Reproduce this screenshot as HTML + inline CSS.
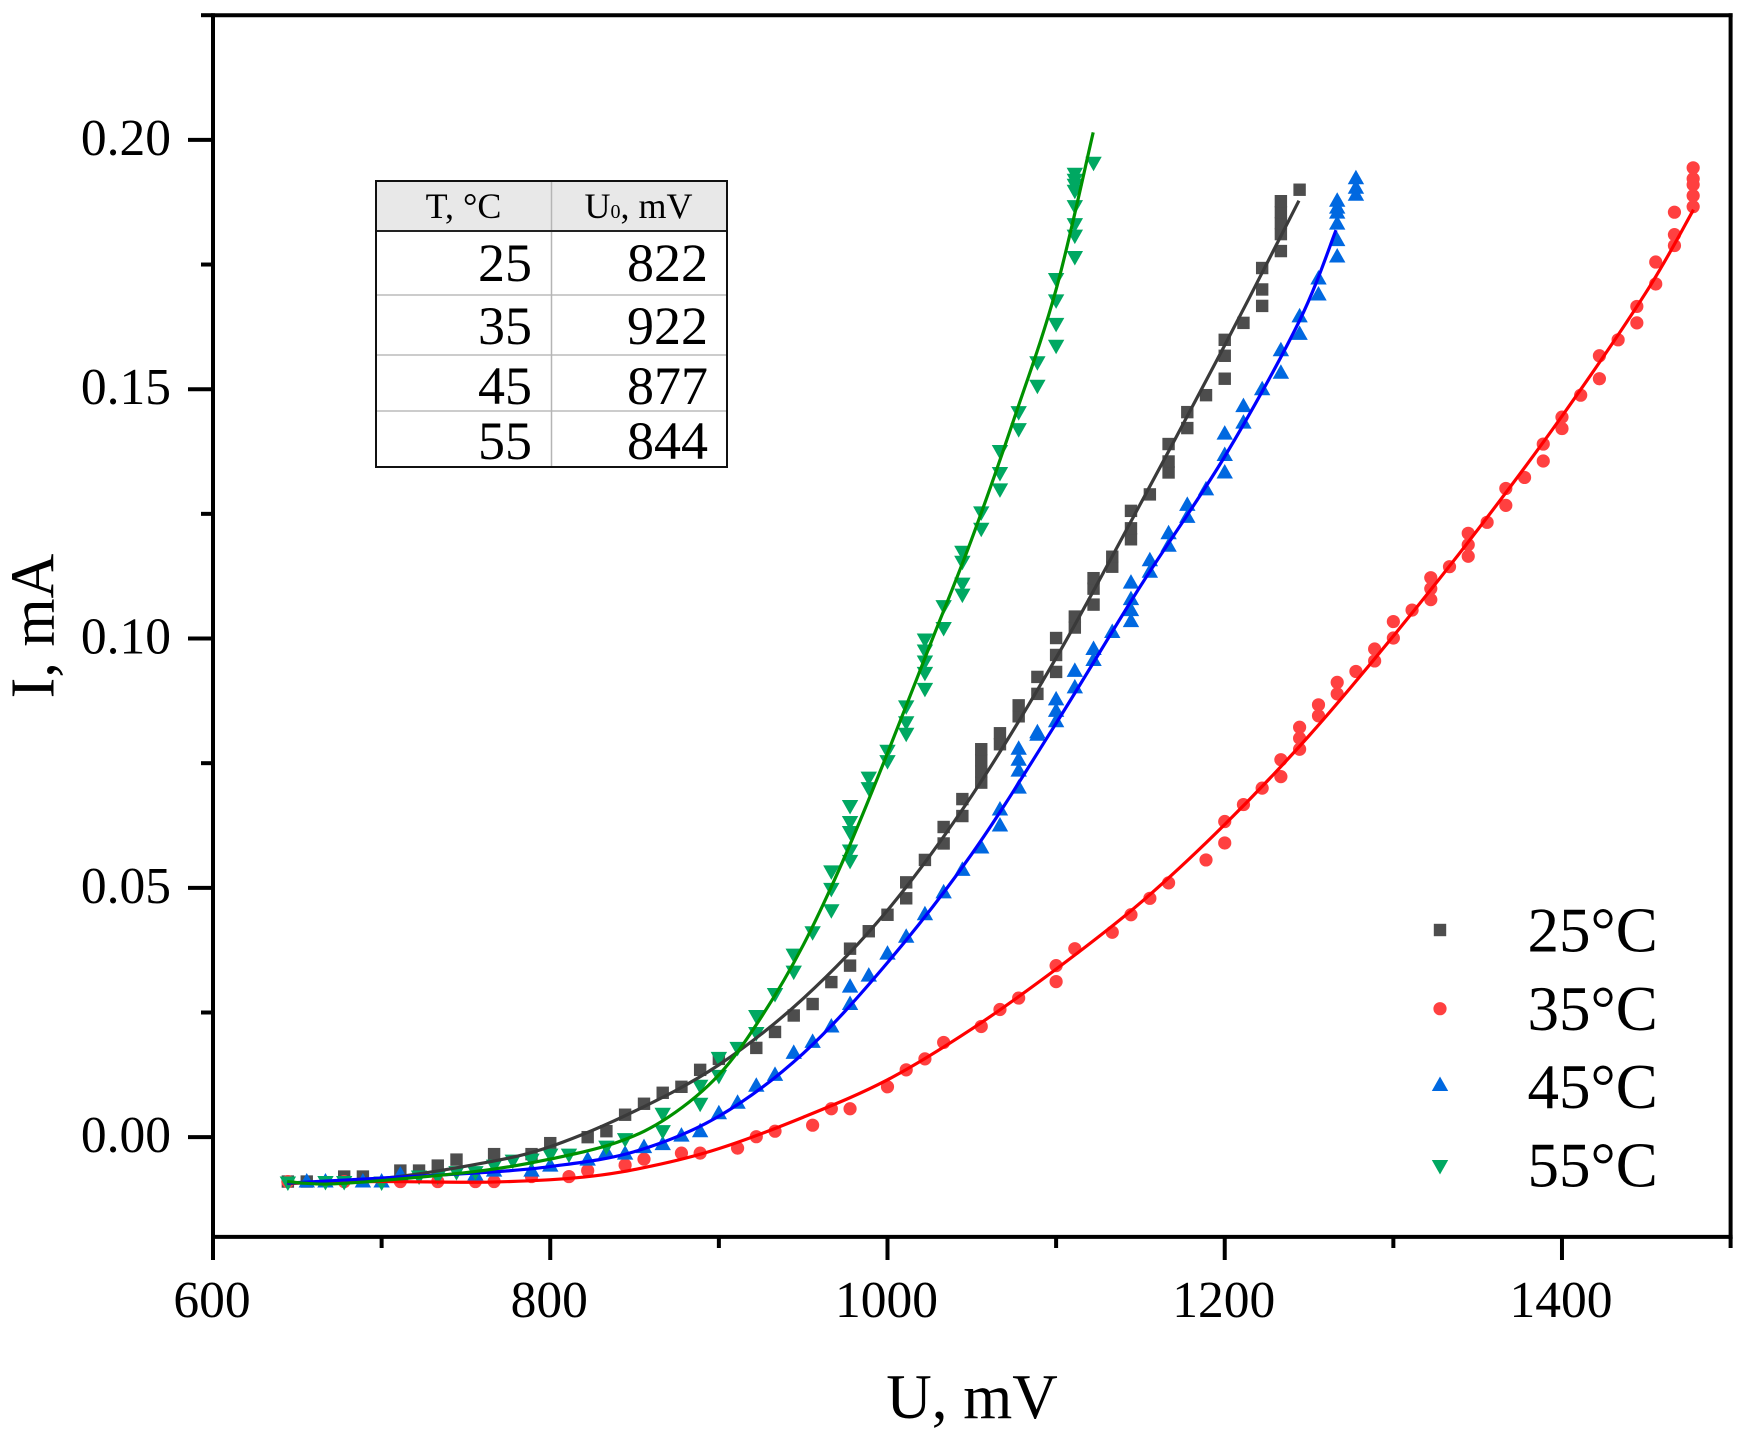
<!DOCTYPE html>
<html lang="en">
<head>
<meta charset="utf-8">
<title>I-U curves</title>
<style>
html,body{margin:0;padding:0;background:#fff;}
svg{display:block;}
text{font-family:"Liberation Serif",serif;fill:#000;}
</style>
</head>
<body>
<svg id="chart" xmlns="http://www.w3.org/2000/svg" width="1758" height="1440" viewBox="0 0 1758 1440">
<rect x="0" y="0" width="1758" height="1440" fill="#fff"/>
<g id="marks"></g>
<g id="curves"></g>
<g id="axes"></g>
<text x="972" y="1418" font-size="63" text-anchor="middle">U, mV</text>
<text transform="translate(53.5 626) rotate(-90)" font-size="62" text-anchor="middle">I, mA</text>
<g>
<rect x="376" y="181" width="351" height="50" fill="#e8e8e8"/>
<line x1="376" x2="727" y1="295" y2="295" stroke="#ccc" stroke-width="2"/>
<line x1="376" x2="727" y1="355" y2="355" stroke="#ccc" stroke-width="2"/>
<line x1="376" x2="727" y1="411" y2="411" stroke="#ccc" stroke-width="2"/>
<line x1="551.5" x2="551.5" y1="181" y2="467" stroke="#b5b5b5" stroke-width="1.5"/>
<line x1="376" x2="727" y1="231" y2="231" stroke="#222" stroke-width="2"/>
<rect x="376" y="181" width="351" height="286" fill="none" stroke="#111" stroke-width="2"/>
<text x="463.5" y="218" font-size="36" text-anchor="middle">T, °C</text>
<text x="638.5" y="218" font-size="36" text-anchor="middle">U<tspan font-size="20">0</tspan>, mV</text>
<text x="532" y="281" font-size="54" text-anchor="end">25</text>
<text x="708" y="281" font-size="54" text-anchor="end">822</text>
<text x="532" y="344" font-size="54" text-anchor="end">35</text>
<text x="708" y="344" font-size="54" text-anchor="end">922</text>
<text x="532" y="404" font-size="54" text-anchor="end">45</text>
<text x="708" y="404" font-size="54" text-anchor="end">877</text>
<text x="532" y="459" font-size="54" text-anchor="end">55</text>
<text x="708" y="459" font-size="54" text-anchor="end">844</text>
</g>
<g id="legend"></g>
</svg>
<script>
const xMajorTicks = [600, 800, 1000, 1200, 1400];
const xMinorTicks = [700, 900, 1100, 1300, 1500];
const yMajorTicks = [0, 0.05, 0.10, 0.15, 0.20];
const yMajorLabels = ["0.00", "0.05", "0.10", "0.15", "0.20"];
const yMinorTicks = [0.025, 0.075, 0.125, 0.175, 0.225];
const xDomain = [600, 1500];
const yDomain = [-0.02, 0.225];
const legendLabels = ["25°C", "35°C", "45°C", "55°C"];

const u25 = [644.4,655.6,677.8,688.9,711.1,722.2,733.3,744.4,766.7,788.9,800,822.2,833.3,844.4,855.6,
866.7,877.8,888.9,900,922.2,933.3,944.4,955.6,966.7,977.8,977.8,988.9,1000,1011.1,1011.1,
1022.2,1033.3,1033.3,1044.4,1044.4,1055.6,1055.6,1055.6,1055.6,1066.7,1066.7,1077.8,1077.8,1088.9,1088.9,
1100,1100,1100,1111.1,1111.1,1122.2,1122.2,1122.2,1133.3,1133.3,1144.4,1144.4,1144.4,1155.6,
1166.7,1166.7,1166.7,1177.8,1177.8,1188.9,1200,1200,1200,1211.1,1222.2,1222.2,1222.2,
1233.3,1233.3,1233.3,1233.3,1233.3,1244.4];
const i25 = [-0.0089,-0.0089,-0.0079,-0.0079,-0.0067,-0.0067,-0.0057,-0.0045,-0.0034,-0.0034,-0.0012,0,0.0012,0.0045,0.0067,
0.0089,0.0101,0.0135,0.0157,0.0179,0.0211,0.0244,0.0267,0.0311,0.0344,0.0378,0.0413,0.0446,0.0479,0.0511,
0.0556,0.0589,0.0622,0.0644,0.0678,0.0711,0.0733,0.0756,0.0778,0.0788,0.081,0.0844,0.0866,0.0889,0.0923,
0.0933,0.0967,0.1001,0.1022,0.1044,0.1068,0.11,0.1121,0.1144,0.1164,0.1199,0.1221,0.1256,0.1289,
0.1333,0.1355,0.139,0.1422,0.1454,0.1488,0.1521,0.1567,0.1599,0.1633,0.1667,0.17,0.1743,
0.1777,0.1811,0.1833,0.1855,0.1877,0.19];

const u35 = [644.4,677.8,711.1,733.3,755.6,766.7,788.9,811.1,822.2,844.4,855.6,877.8,888.9,911.1,922.2,933.3,955.6,966.7,977.8,
1000,1011.1,1022.2,1033.3,1055.6,1066.7,1077.8,1100,1100,1111.1,1133.3,1144.4,1155.6,1166.7,
1188.9,1200,1200,1211.1,1222.2,1233.3,1233.3,1244.4,1244.4,1244.4,1255.6,1255.6,1266.7,1266.7,
1277.8,1288.9,1288.9,1300,1300,1311.1,1322.2,1322.2,1322.2,1333.3,1344.4,1344.4,1344.4,1355.6,
1366.7,1366.7,1377.8,1388.9,1388.9,1400,1400,1411.1,1422.2,1422.2,1433.3,1444.4,1444.4,1455.6,1455.6,
1466.7,1466.7,1466.7,1477.8,1477.8,1477.8,1477.8,1477.8];
const i35 = [-0.0089,-0.0089,-0.0089,-0.0089,-0.0089,-0.0089,-0.0079,-0.0079,-0.0067,-0.0056,-0.0044,-0.0032,-0.0032,-0.0022,0.0001,0.0012,0.0024,0.0057,0.0057,
0.0101,0.0135,0.0157,0.019,0.0222,0.0256,0.0279,0.0312,0.0344,0.0378,0.0411,0.0446,0.0479,0.051,
0.0556,0.059,0.0633,0.0667,0.07,0.0723,0.0757,0.0778,0.08,0.0822,0.0845,0.0867,0.0889,0.0912,
0.0934,0.0955,0.0979,0.1001,0.1034,0.1057,0.1078,0.11,0.1122,0.1144,0.1165,0.1188,0.1211,0.1233,
0.1267,0.1301,0.1323,0.1356,0.139,0.1421,0.1444,0.1488,0.1521,0.1567,0.1599,0.1633,0.1666,0.1711,0.1755,
0.1788,0.181,0.1855,0.1866,0.1888,0.191,0.1922,0.1944];

const u45 = [655.6,666.7,688.9,700,711.1,755.6,766.7,788.9,800,822.2,833.3,844.4,855.6,866.7,877.8,888.9,900,911.1,
922.2,933.3,944.4,955.6,966.7,977.8,977.8,988.9,1000,1011.1,1022.2,1033.3,1044.4,1055.6,1066.7,1066.7,
1077.8,1077.8,1077.8,1077.8,1088.9,1088.9,1100,1100,1100,1111.1,1111.1,1122.2,1122.2,1133.3,
1144.4,1144.4,1144.4,1144.4,1155.6,1155.6,1166.7,1166.7,1177.8,1177.8,1188.9,1200,1200,1200,1211.1,1211.1,
1222.2,1233.3,1233.3,1244.4,1244.4,1255.6,1255.6,1266.7,1266.7,1266.7,1266.7,1266.7,1266.7,1277.8,1277.8,1277.8];
const i45 = [-0.0087,-0.0087,-0.0087,-0.0087,-0.0073,-0.0073,-0.0065,-0.0065,-0.0055,-0.0043,-0.0028,-0.0031,-0.0018,-0.0012,0.0005,0.0014,0.005,0.0071,
0.0105,0.0127,0.0171,0.0193,0.0224,0.0269,0.0304,0.0326,0.037,0.0404,0.0449,0.0493,0.0538,0.0583,0.0627,0.0659,
0.0703,0.0737,0.0759,0.0781,0.0809,0.0814,0.0836,0.0857,0.088,0.0904,0.0937,0.0959,0.0981,0.1015,
0.1037,0.1059,0.1081,0.1114,0.1136,0.1159,0.1188,0.1213,0.1246,0.127,0.1301,0.1335,0.137,0.1413,0.1435,0.1468,
0.1502,0.1535,0.158,0.1613,0.1648,0.1692,0.1724,0.1768,0.1801,0.1834,0.1856,0.1866,0.188,0.1892,0.1906,0.1925];

const u55 = [644.4,666.7,677.8,700,722.2,733.3,744.4,755.6,766.7,777.8,788.9,800,811.1,833.3,844.4,866.7,866.7,
888.9,888.9,900,900,911.1,922.2,922.2,933.3,944.4,944.4,955.6,966.7,966.7,966.7,
977.8,977.8,977.8,977.8,977.8,988.9,988.9,1000,1000,1011.1,1011.1,1011.1,
1022.2,1022.2,1022.2,1022.2,1022.2,1033.3,1033.3,1044.4,1044.4,1044.4,1044.4,1055.6,1055.6,
1066.7,1066.7,1066.7,1077.8,1077.8,1088.9,1088.9,1100,1100,1100,1100,
1111.1,1111.1,1111.1,1111.1,1111.1,1111.1,1111.1,1111.1,1122.2];
const i55 = [-0.0093,-0.0092,-0.0092,-0.0093,-0.0081,-0.0081,-0.0072,-0.0072,-0.0059,-0.0049,-0.0047,-0.0037,-0.0037,-0.0021,-0.0006,0.001,0.0045,
0.0065,0.0101,0.0121,0.0157,0.0177,0.0207,0.0241,0.0285,0.033,0.0364,0.0409,0.0453,0.0496,0.0531,
0.0552,0.0573,0.061,0.063,0.0662,0.0698,0.0719,0.0752,0.0773,0.0807,0.083,0.0862,
0.0897,0.0929,0.0952,0.0974,0.0996,0.1019,0.1063,0.1086,0.1108,0.1152,0.1172,0.1218,0.1251,
0.1297,0.133,0.1374,0.1418,0.1452,0.1505,0.1552,0.1585,0.1629,0.1676,0.1719,
0.1763,0.1806,0.1829,0.1865,0.1896,0.1908,0.1918,0.193,0.1952];

const fitU25 = [644,700,760,800,850,900,950,1000,1050,1100,1150,1200,1244];
const fitI25 = [-0.0093,-0.0083,-0.0052,-0.0019,0.0052,0.0145,0.0278,0.0455,0.0685,0.0961,0.127,0.1588,0.1878];

const fitU35 = [644,700,765,820,860,900,950,1000,1050,1100,1150,1200,1250,1300,1350,1400,1450,1478];
const fitI35 = [-0.0092,-0.0089,-0.009,-0.008,-0.0058,-0.0023,0.004,0.0115,0.0217,0.0337,0.047,0.0627,0.0805,0.1005,0.1218,0.1446,0.1695,0.186];

const fitU45 = [644,700,760,800,850,900,950,1000,1050,1100,1150,1200,1244,1266];
const fitI45 = [-0.0092,-0.0082,-0.0071,-0.0059,-0.0029,0.0042,0.0168,0.035,0.0568,0.083,0.1105,0.1365,0.1635,0.1819];

const fitU55 = [644,666,700,760,800,840,870,900,925,950,975,1000,1025,1050,1075,1100,1122];
const fitI55 = [-0.0089,-0.0094,-0.0087,-0.0067,-0.0044,-0.001,0.004,0.0125,0.024,0.0385,0.0565,0.077,0.0985,0.12,0.144,0.17,0.2015];

const NS = 'http://www.w3.org/2000/svg';
const plotLeft = 213, plotRight = 1730.6, plotBottom = 1236.9, plotTop = 15.2;
function xScale(v){ return plotLeft + (v - xDomain[0]) / (xDomain[1] - xDomain[0]) * (plotRight - plotLeft); }
function yScale(v){ return plotBottom - (v - yDomain[0]) / (yDomain[1] - yDomain[0]) * (plotBottom - plotTop); }

function make(tag, parent){
  const el = document.createElementNS(NS, tag);
  parent.appendChild(el);
  return el;
}
function drawMarker(kind, x, y, color, parent){
  let el;
  if (kind === 'square') {
    el = make('rect', parent);
    el.setAttribute('x', x - 6.2);
    el.setAttribute('y', y - 6.2);
    el.setAttribute('width', 12.4);
    el.setAttribute('height', 12.4);
  } else if (kind === 'circle') {
    el = make('circle', parent);
    el.setAttribute('cx', x);
    el.setAttribute('cy', y);
    el.setAttribute('r', 6.6);
  } else if (kind === 'up') {
    el = make('polygon', parent);
    el.setAttribute('points', (x) + ',' + (y - 7.5) + ' ' + (x + 8.2) + ',' + (y + 7) + ' ' + (x - 8.2) + ',' + (y + 7));
  } else {
    el = make('polygon', parent);
    el.setAttribute('points', (x) + ',' + (y + 7.5) + ' ' + (x + 8.2) + ',' + (y - 7) + ' ' + (x - 8.2) + ',' + (y - 7));
  }
  el.setAttribute('fill', color);
  return el;
}
function smoothPath(us, is){
  const p = us.map(function(u, k){ return [xScale(u), yScale(is[k])]; });
  let d = 'M' + p[0][0].toFixed(2) + ' ' + p[0][1].toFixed(2);
  for (let k = 0; k < p.length - 1; k++) {
    const a = p[Math.max(k - 1, 0)], b = p[k], c = p[k + 1], e = p[Math.min(k + 2, p.length - 1)];
    d += ' C' + (b[0] + (c[0] - a[0]) / 6).toFixed(2) + ' ' + (b[1] + (c[1] - a[1]) / 6).toFixed(2) +
         ' ' + (c[0] - (e[0] - b[0]) / 6).toFixed(2) + ' ' + (c[1] - (e[1] - b[1]) / 6).toFixed(2) +
         ' ' + c[0].toFixed(2) + ' ' + c[1].toFixed(2);
  }
  return d;
}

const seriesList = [
  {label: '25c', kind: 'square', color: '#4d4d4d', line: '#3a3a3a', u: u25, i: i25, fu: fitU25, fi: fitI25},
  {label: '35c', kind: 'circle', color: '#ff4040', line: '#ff0000', u: u35, i: i35, fu: fitU35, fi: fitI35},
  {label: '45c', kind: 'up', color: '#0068e0', line: '#0000ff', u: u45, i: i45, fu: fitU45, fi: fitI45},
  {label: '55c', kind: 'down', color: '#00a862', line: '#009100', u: u55, i: i55, fu: fitU55, fi: fitI55}
];

const marksGroup = document.getElementById('marks');
const curvesGroup = document.getElementById('curves');
seriesList.forEach(function(s){
  s.u.forEach(function(u, k){
    const el = drawMarker(s.kind, xScale(u), yScale(s.i[k]), s.color, marksGroup);
    
    
  });
});
seriesList.forEach(function(s){
  const el = make('path', curvesGroup);
  el.setAttribute('d', smoothPath(s.fu, s.fi));
  el.setAttribute('fill', 'none');
  el.setAttribute('stroke', s.line);
  el.setAttribute('stroke-width', 3.2);
  
  
});

const axesGroup = document.getElementById('axes');
function axisLine(x1, y1, x2, y2, name){
  const el = make('line', axesGroup);
  el.setAttribute('x1', x1);
  el.setAttribute('y1', y1);
  el.setAttribute('x2', x2);
  el.setAttribute('y2', y2);
  el.setAttribute('stroke', '#000');
  el.setAttribute('stroke-width', 4);
  
  
}
function axisText(x, y, str, anchor, name){
  const el = make('text', axesGroup);
  el.setAttribute('x', x);
  el.setAttribute('y', y);
  el.setAttribute('font-size', 51.5);
  el.setAttribute('text-anchor', anchor);
  el.textContent = str;
  
  
}
axisLine(plotLeft, plotTop - 2, plotLeft, plotBottom + 2, 'y-axis-line');
axisLine(plotLeft - 2, plotBottom, plotRight + 2, plotBottom, 'x-axis-line');
axisLine(plotLeft, plotTop, plotRight + 2, plotTop, 'top-border');
axisLine(plotRight, plotTop - 2, plotRight, plotBottom + 2, 'right-border');
xMajorTicks.forEach(function(v){
  axisLine(xScale(v), plotBottom, xScale(v), 1260, 'x-major-tick');
  axisText(xScale(v) - 1, 1317, String(v), 'middle', 'x-tick-label');
});
xMinorTicks.forEach(function(v){
  axisLine(xScale(v), plotBottom, xScale(v), 1248, 'x-minor-tick');
});
yMajorTicks.forEach(function(v, k){
  axisLine(plotLeft, yScale(v), 188, yScale(v), 'y-major-tick');
  axisText(171, yScale(v) + 15, yMajorLabels[k], 'end', 'y-tick-label');
});
yMinorTicks.forEach(function(v){
  axisLine(plotLeft, yScale(v), 201, yScale(v), 'y-minor-tick');
});

const legendGroup = document.getElementById('legend');
const legendMarkerY = [930, 1008.7, 1084, 1167];
const legendTextY = [951.7, 1030, 1108, 1186.7];
seriesList.forEach(function(s, k){
  const m = drawMarker(s.kind, 1440, legendMarkerY[k], s.color, legendGroup);
  
  
  const t = make('text', legendGroup);
  t.setAttribute('x', 1527.5);
  t.setAttribute('y', legendTextY[k]);
  t.setAttribute('font-size', 63);
  t.textContent = legendLabels[k];
  
  
});
</script>
</body>
</html>
